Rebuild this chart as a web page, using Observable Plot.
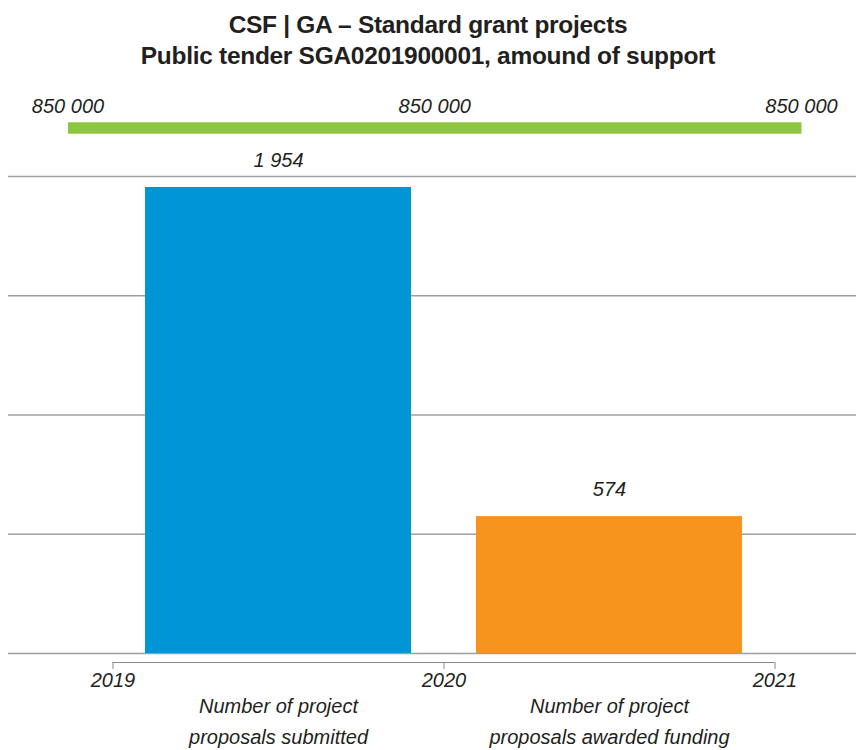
<!DOCTYPE html>
<html>
<head>
<meta charset="utf-8">
<script src="https://cdn.jsdelivr.net/npm/d3@7"></script>
<script src="https://cdn.jsdelivr.net/npm/@observablehq/plot@0.6"></script>
<style>
  html, body { margin: 0; padding: 0; background: #fff; }
  body { width: 856px; font-family: "Liberation Sans", Arial, sans-serif; color: #231f20; }
  #title { height: 85px; box-sizing: border-box; padding-top: 9px; text-align: center;
           font-weight: bold; font-size: 24.5px; line-height: 31px; letter-spacing: -0.3px; }
  svg { display: block; }
</style>
</head>
<body>
<div id="title">CSF | GA – Standard grant projects<br>Public tender SGA0201900001, amound of support</div>
<div id="support"></div>
<div id="chart"></div>
<script>
// ---- data ----
const years = [2019, 2020, 2021];
const periodStart = [2019, 2020];
const categories = ["Number of project\nproposals submitted", "Number of project\nproposals awarded funding"];
const counts = [1954, 574];
const colors = ["#0096d6", "#f7941d"];
const yTicks = [0, 500, 1000, 1500, 2000];
const support = [850000, 850000, 850000];

const fmt = d3.formatLocale({decimal: ",", thousands: " ", grouping: [3], currency: ["", ""]}).format(",d");
const textColor = "#231f20";
const font = "'Liberation Sans', Arial, sans-serif";

// ---- support line ----
const supportPlot = Plot.plot({
  width: 856,
  height: 60,
  margin: 0,
  style: {fontFamily: font, background: "transparent", overflow: "visible"},
  x: {domain: [0, support.length - 1], range: [67.5, 801], axis: null},
  y: {domain: [0, 1700000], range: [52.5, 32.5], axis: null},
  marks: [
    Plot.line(support, {x: (d, i) => i, y: d => d, stroke: "#8dc63f", strokeWidth: 11.5, strokeLinecap: "butt"}),
    Plot.text(support, {x: (d, i) => i, y: d => d, text: d => fmt(d), dy: -21.5, fontSize: 20,
      fontStyle: "italic", fill: textColor})
  ]
});
document.getElementById("support").appendChild(supportPlot);

// ---- main chart ----
const bars = categories.map((c, i) => ({cat: c, start: periodStart[i], end: periodStart[i] + 1, value: counts[i]}));

const chart = Plot.plot({
  width: 856,
  height: 605,
  marginLeft: 8,
  marginRight: 0,
  marginTop: 31,
  marginBottom: 97,
  style: {fontFamily: font, background: "transparent", overflow: "visible"},
  x: {domain: [years[0], years[years.length - 1]], range: [112.5, 774.5], axis: null},
  y: {domain: [yTicks[0], yTicks[yTicks.length - 1]], range: [508, 31], axis: null},
  color: {domain: categories, range: colors},
  marks: [
    Plot.ruleY(yTicks, {stroke: "#a0a0a0", strokeWidth: 1.5}),
    Plot.rectY(bars, {x1: "start", x2: "end", y: "value", fill: "cat", insetLeft: 32.5, insetRight: 32.5}),
    Plot.text(bars, {x: d => d.start + 0.5, y: "value", text: d => fmt(d.value), dy: -27, fontSize: 20,
      fontStyle: "italic", fill: textColor}),
    Plot.ruleY([0], {x1: years[0], x2: years[years.length - 1], dy: 9, stroke: "#8a8a8a", strokeWidth: 1.2}),
    Plot.axisX({ticks: years, tickFormat: d => String(d), tickSize: 7, tickPadding: 3, dy: 9,
      fontSize: 20, fontStyle: "italic", fill: textColor, stroke: "#8a8a8a", label: null}),
    Plot.text(bars, {x: d => d.start + 0.5, y: 0, text: "cat", dy: 65.5, fontSize: 20, lineHeight: 1.55,
      fontStyle: "italic", fill: textColor})
  ]
});
document.getElementById("chart").appendChild(chart);
</script>
</body>
</html>
